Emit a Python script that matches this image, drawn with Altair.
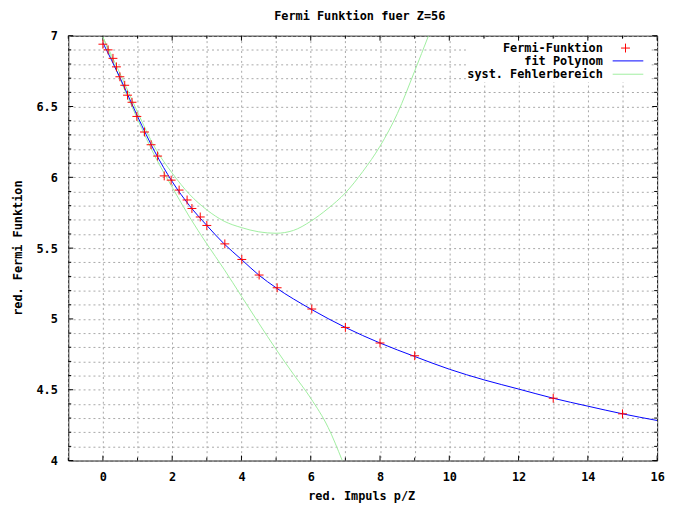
import altair as alt
import pandas as pd

# ---------------- data ----------------
fermi_x = [0.0, 0.15, 0.29, 0.39, 0.49, 0.63, 0.71, 0.84, 0.98, 1.2, 1.39, 1.58, 1.77, 1.97,
           2.2, 2.43, 2.57, 2.81, 3.0, 3.52, 4.01, 4.51, 5.03, 6.03, 7.0, 8.0, 9.0, 13.0, 15.0]
fermi_y = [6.94, 6.90, 6.84, 6.78, 6.71, 6.65, 6.58, 6.53, 6.43, 6.32, 6.23, 6.15, 6.01, 5.98,
           5.91, 5.84, 5.78, 5.72, 5.66, 5.53, 5.42, 5.31, 5.22, 5.07, 4.94, 4.83, 4.74, 4.44, 4.33]

fit_x = [0, 0.5, 1, 1.5, 2, 2.5, 3, 3.5, 4, 4.5, 5, 6, 7, 8, 9, 10, 11, 12, 13, 14, 15, 16]
fit_y = [6.95, 6.70, 6.43, 6.18, 5.97, 5.80, 5.66, 5.53, 5.42, 5.31, 5.22, 5.07, 4.94, 4.83,
         4.735, 4.645, 4.57, 4.505, 4.44, 4.384, 4.33, 4.283]

err_up_x = [0, 0.5, 1, 1.5, 2, 2.5, 3, 3.5, 4, 4.5, 5, 5.5, 6, 6.5, 7, 7.5, 8, 8.5, 9, 9.4]
err_up_y = [6.99, 6.73, 6.46, 6.21, 6.03, 5.88, 5.77, 5.69, 5.645, 5.615, 5.605, 5.625, 5.69,
            5.78, 5.89, 6.04, 6.22, 6.45, 6.75, 7.0]

err_lo_x = [0, 0.5, 1, 1.5, 2, 2.5, 3, 3.5, 4, 4.5, 5, 5.5, 6, 6.5, 6.91]
err_lo_y = [6.99, 6.69, 6.41, 6.15, 5.93, 5.72, 5.53, 5.35, 5.16, 4.97, 4.785, 4.61, 4.44, 4.235, 4.0]

x_major = [0, 2, 4, 6, 8, 10, 12, 14, 16]
x_minor = [-1, 1, 3, 5, 7, 9, 11, 13, 15]
y_major = [4.0, 4.5, 5.0, 5.5, 6.0, 6.5, 7.0]
y_minor = [4.1, 4.2, 4.3, 4.4, 4.6, 4.7, 4.8, 4.9, 5.1, 5.2, 5.3, 5.4, 5.6, 5.7, 5.8, 5.9,
           6.1, 6.2, 6.3, 6.4, 6.6, 6.7, 6.8, 6.9]

title_text = "Fermi Funktion fuer Z=56"
x_title = "red. Impuls p/Z"
y_title = "red. Fermi Funktion"
legend_labels = ["Fermi-Funktion", "fit Polynom", "syst. Fehlerbereich"]

# ---------------- style ----------------
W, H = 596, 430
FONT = "DejaVu Sans Mono"
RED, BLUE, GREEN = "#ff0000", "#0000ff", "#a0eea0"
GRID = "#a8a8a8"

xs = alt.Scale(domain=[-1, 16], nice=False, zero=False)
ys = alt.Scale(domain=[4, 7], nice=False, zero=False)

points = pd.DataFrame({"x": fermi_x, "y": fermi_y})
fit = pd.DataFrame({"x": fit_x, "y": fit_y})
up = pd.DataFrame({"x": err_up_x, "y": err_up_y})
lo = pd.DataFrame({"x": err_lo_x, "y": err_lo_y})
one = pd.DataFrame({"a": [0]})

grid_x = sorted(x_major + x_minor)
grid_y = sorted(y_major + y_minor)

x_axis = alt.Axis(values=grid_x, grid=True, gridDash=[2, 3], gridColor=GRID, gridWidth=1,
                  ticks=False, tickSize=0, domain=False, title=None,
                  labelExpr="datum.value % 2 == 0 ? datum.label : ''",
                  labelFont=FONT, labelFontSize=12, labelFontWeight="bold", labelColor="black",
                  labelPadding=11, labelFlush=False, labelOverlap=False)
y_axis = alt.Axis(values=grid_y, grid=True, gridDash=[2, 3], gridColor=GRID, gridWidth=1,
                  ticks=False, tickSize=0, domain=False, title=None, format=".1~f",
                  labelExpr="abs(datum.value*2 - round(datum.value*2)) < 0.001 ? datum.label : ''",
                  labelFont=FONT, labelFontSize=12, labelFontWeight="bold", labelColor="black",
                  labelPadding=11, labelFlush=False, labelOverlap=False)


def X(f):
    return alt.X(f, scale=xs, axis=x_axis)


def Y(f):
    return alt.Y(f, scale=ys, axis=y_axis)


plus = "M-1,0L1,0M0,-1L0,1"
pts = alt.Chart(points).mark_point(shape=plus, size=81, filled=False, color=RED,
                                   strokeWidth=1, opacity=1, clip=True).encode(
    x=X("x:Q"), y=Y("y:Q"))

# legend background box (hides grid behind key)
legend_bg = alt.Chart(one).mark_rect(fill="white").encode(
    x=alt.value(404), x2=alt.value(589), y=alt.value(3), y2=alt.value(47))


# inward tick marks on all four sides
def xticks(vals, length):
    d = pd.DataFrame({"v": vals})
    b = alt.Chart(d).mark_rule(color="black", strokeWidth=1)
    return (b.encode(x=X("v:Q"), y=alt.value(H), y2=alt.value(H - length))
            + b.encode(x=X("v:Q"), y=alt.value(0), y2=alt.value(length)))


def yticks(vals, length):
    d = pd.DataFrame({"v": vals})
    b = alt.Chart(d).mark_rule(color="black", strokeWidth=1)
    return (b.encode(y=Y("v:Q"), x=alt.value(0), x2=alt.value(length))
            + b.encode(y=Y("v:Q"), x=alt.value(W), x2=alt.value(W - length)))


ticks = xticks(x_major, 5) + xticks(x_minor, 3) + yticks(y_major, 5) + yticks(y_minor, 3)


def curve(df, color):
    return alt.Chart(df).mark_line(color=color, strokeWidth=1, clip=True,
                                   interpolate="monotone").encode(x=X("x:Q"), y=Y("y:Q"))


green_up = curve(up, GREEN)
green_lo = curve(lo, GREEN)
blue = curve(fit, BLUE)


def txt(s, x, y, align="center", angle=0):
    return alt.Chart(one).mark_text(text=s, font=FONT, fontSize=12, fontWeight="bold",
                                    color="black", align=align, baseline="middle",
                                    angle=angle).encode(x=alt.value(x), y=alt.value(y))


title = txt(title_text, 295, -20)
xt = txt(x_title, 297, 466)
yt = txt(y_title, -51, 215, angle=270)

rows = [12, 25.5, 39]
leg_text = (txt(legend_labels[0], 541, rows[0], "right")
            + txt(legend_labels[1], 541, rows[1], "right")
            + txt(legend_labels[2], 541, rows[2], "right"))
leg_plus = (alt.Chart(one).mark_rule(color=RED, strokeWidth=1).encode(
    x=alt.value(559.5), x2=alt.value(568.5), y=alt.value(rows[0] + 0.5))
    + alt.Chart(one).mark_rule(color=RED, strokeWidth=1).encode(
    x=alt.value(564), y=alt.value(rows[0] - 4), y2=alt.value(rows[0] + 5)))
leg_blue = alt.Chart(one).mark_rule(color=BLUE, strokeWidth=1).encode(
    x=alt.value(551), x2=alt.value(582), y=alt.value(rows[1]))
leg_green = alt.Chart(one).mark_rule(color=GREEN, strokeWidth=1).encode(
    x=alt.value(551), x2=alt.value(582), y=alt.value(rows[2]))

chart = alt.layer(
    legend_bg, ticks, green_up, green_lo, blue, pts,
    leg_text, leg_plus, leg_blue, leg_green, title, xt, yt,
).properties(
    width=W, height=H,
    padding={"left": 61, "top": 25, "right": 11, "bottom": 46},
    autosize=alt.AutoSizeParams(type="none"),
    background="white",
).configure_view(stroke="black", strokeWidth=1)

chart.save("out.html", embed_options={"renderer": "svg", "actions": False})
